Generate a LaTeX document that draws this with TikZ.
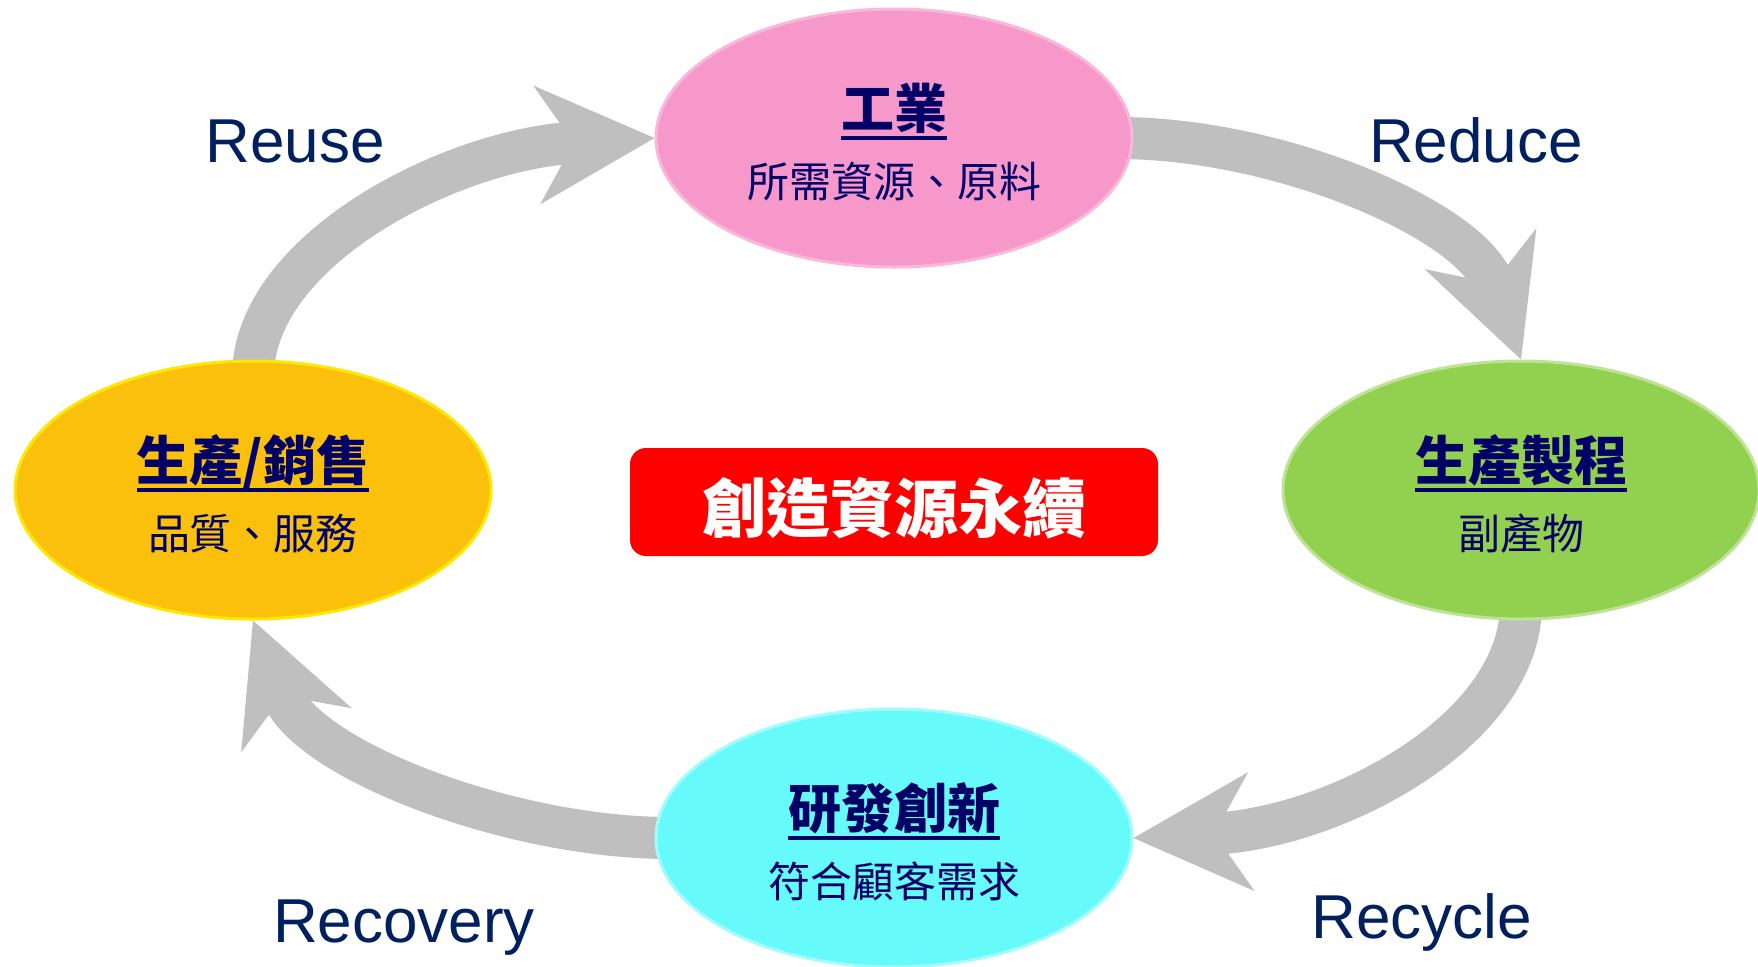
\documentclass[tikz,border=0pt]{standalone}
\usepackage{fontspec}
\setmainfont{Liberation Sans}
\newfontfamily\cjk{Noto Sans CJK TC}
\usetikzlibrary{arrows.meta,shapes.geometric}
\pgfdeclarelayer{paper}
\pgfdeclarelayer{under}
\pgfsetlayers{paper,under,main}
\definecolor{pinkf}{RGB}{247,152,202}
\definecolor{yellowf}{RGB}{251,192,12}
\definecolor{greenf}{RGB}{146,208,80}
\definecolor{cyanf}{RGB}{102,250,250}
\definecolor{arrowgray}{RGB}{191,191,191}
\definecolor{redbox}{RGB}{255,0,0}
\definecolor{navytxt}{RGB}{0,32,96}
\definecolor{cjknavy}{RGB}{0,0,102}
\newcommand\myul[1]{\setbox0\hbox{#1}\rlap{\vrule width\wd0 height -4pt depth 6pt}\box0}
\begin{document}
\begin{tikzpicture}[x=0.5pt,y=-0.5pt,
  ell/.style={ellipse, minimum width=238pt, minimum height=129pt, inner sep=0pt, line width=1.5pt},
  ttl/.style={font=\cjk\bfseries\fontsize{26.5}{30}\selectfont, text=cjknavy, inner sep=0pt, anchor=base},
  subt/.style={font=\cjk\fontsize{21}{25}\selectfont, text=cjknavy, inner sep=0pt, anchor=base},
  lbl/.style={font=\fontsize{31}{36}\selectfont, text=navytxt, inner sep=0pt, anchor=base},
  flow/.style={draw=arrowgray, line width=21pt,
    -{Stealth[length=59pt, width=59.5pt, inset=18.5pt, line width=0pt]}},
  core/.style={fill=redbox, rounded corners=8pt, minimum width=264pt, minimum height=54pt,
    inner sep=0pt, font=\cjk\bfseries\fontsize{32}{36}\selectfont, text=white,
    text height=32pt, text depth=2pt}
]
\useasboundingbox (0,0) rectangle (1758,966);
\begin{pgfonlayer}{paper}
\fill[white] (0,0) rectangle (1758,966);
\end{pgfonlayer}

\node[ell, fill=pinkf, draw=pinkf!70!white] (T) at (894,138) {};
\node[ell, fill=yellowf, draw=yellow!80!yellowf] (L) at (253,490) {};
\node[ell, fill=greenf, draw=greenf!60!white] (R) at (1521,490) {};
\node[ell, fill=cyanf, draw=cyanf!60!white] (B) at (894,838) {};

\begin{pgfonlayer}{under}
\draw[flow] ([yshift=-8pt]L.north) .. controls (254,250) and (450,150) .. (T.west);
\draw[flow] ([xshift=-8pt]T.east) .. controls (1280,138) and (1470,220) .. (R.north);
\draw[flow] ([yshift=8pt]R.south) .. controls (1521,730) and (1337,827) .. (B.east);
\draw[flow] ([xshift=8pt]B.west) .. controls (508,838) and (308,759) .. (L.south);
\end{pgfonlayer}

\node[ttl] (Tt) at ([yshift=5pt]T.center) {\myul{工業}};
\node[subt] (Ts) at ([yshift=-29.5pt]T.center) {所需資源、原料};
\node[ttl] (Lt) at ([yshift=5pt]L.center) {\myul{生產/銷售}};
\node[subt] (Ls) at ([yshift=-29.5pt]L.center) {品質、服務};
\node[ttl] (Rt) at ([yshift=5pt]R.center) {\myul{生產製程}};
\node[subt] (Rs) at ([yshift=-29.5pt]R.center) {副產物};
\node[ttl] (Bt) at ([yshift=5pt]B.center) {\myul{研發創新}};
\node[subt] (Bs) at ([yshift=-29.5pt]B.center) {符合顧客需求};

\node[core] (C) at (894,502) {創造資源永續};

\node[lbl] (reuse) at (295,162) {Reuse};
\node[lbl] (reduce) at (1476,162) {Reduce};
\node[lbl] (recycle) at (1422,938) {Recycle};
\node[lbl] (recovery) at (404,942) {Recovery};
\end{tikzpicture}
\end{document}
